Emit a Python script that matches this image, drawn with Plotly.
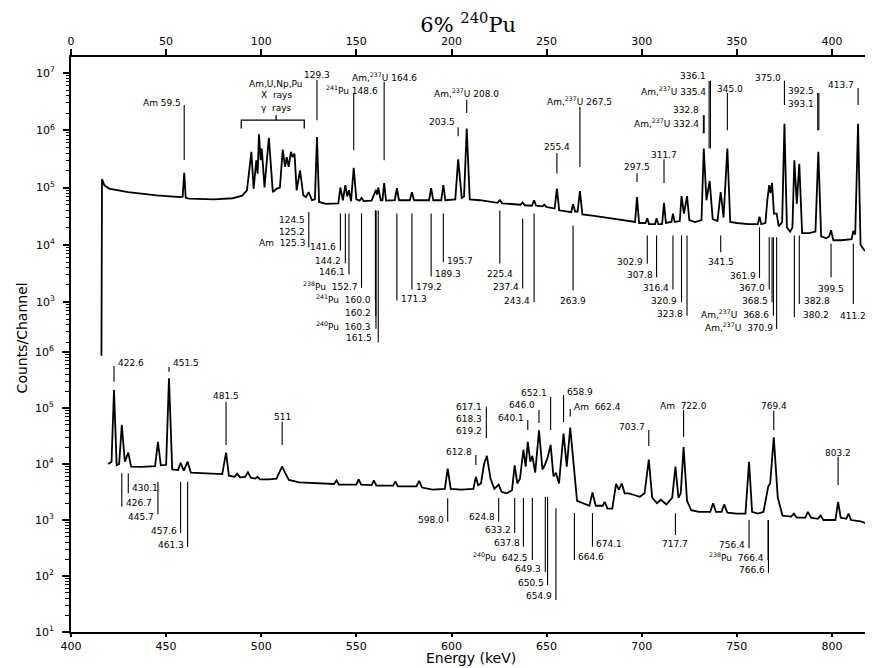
import plotly.graph_objects as go

# ---------------- data ----------------
# upper spectrum (top energy axis 0-420 keV)
up_energy = [16.0, 16.3, 17.5, 20, 30, 45, 57.5, 58.7, 59.5, 60.3, 62, 75, 85, 90, 92.5,
             94.8, 96.0, 97.4, 98.1, 98.8, 99.7, 100.3, 101.7, 104.0, 106.1, 108.0, 109.8,
             111.3, 112.5, 113.4, 114.4, 115.6, 116.5, 117.5, 118.6, 120.4, 122.1, 123.5,
             124.9, 126.7, 128.2, 129.3, 130.4, 134, 140.5, 141.6, 142.9, 144.2, 145.2,
             146.1, 147.2, 148.6, 150.0, 151.7, 152.7, 153.8, 158, 160.3, 160.9, 161.5,
             162.8, 163.7, 164.6, 165.6, 170.2, 171.3, 172.4, 178.1, 179.2, 180.3, 188.2,
             189.3, 190.4, 194.6, 195.7, 196.8, 202.0, 203.5, 205.4, 206.6, 208.0, 209.6,
             215, 224.2, 225.4, 226.6, 236.3, 237.4, 238.5, 242.3, 243.4, 244.5, 247.8,
             248.8, 249.8, 254.2, 255.4, 256.6, 262.9, 263.9, 265.0, 266.3, 267.5, 268.8,
             275, 284, 295, 296.5, 297.5, 298.6, 302.0, 302.9, 303.8, 307.0, 307.8, 308.7,
             310.7, 311.7, 312.7, 315.6, 316.4, 317.3, 320.0, 320.9, 322.2, 323.8, 325.0,
             328, 331.4, 332.6, 334.0, 335.7, 337.3, 339.8, 341.5, 343.0, 345.0, 346.5,
             350, 356, 361.0, 361.9, 362.8, 365, 366.0, 367.0, 367.7, 368.5, 369.5, 370.9,
             372, 373.8, 375.0, 376.3, 378, 379.2, 380.2, 381.5, 382.8, 384.3, 388, 391.3,
             392.8, 394.3, 397, 398.5, 399.5, 400.7, 405, 410.3, 411.2, 412.2, 413.7,
             415.0, 417, 420.5]
up_counts = [115, 1.4e5, 1.1e5, 9.6e4, 8.3e4, 7.3e4, 6.8e4, 6.9e4, 1.8e5, 6.6e4, 6.4e4,
             6.2e4, 6.5e4, 7.2e4, 8.9e4,
             4.2e5, 9.5e4, 3.0e5, 1.75e5, 8.5e5, 3.0e5, 4.8e5, 1.0e5, 7.4e5, 8.3e4, 9.5e4,
             1.0e5, 4.6e5, 2.3e5, 3.4e5, 2.3e5, 4.2e5, 3.4e5, 3.9e5, 8.9e4, 2.0e5, 7.3e4,
             6.8e4, 8.3e4, 6.0e4, 6.2e4, 7.6e5, 5.6e4, 5.2e4, 5.3e4, 1.0e5, 6.0e4, 1.1e5,
             7.0e4, 9.0e4, 5.8e4, 2.2e5, 6.2e4, 5.9e4, 6.6e4, 5.8e4, 5.9e4, 9.1e4, 7.5e4,
             1.0e5, 6.0e4, 6.0e4, 1.2e5, 5.9e4, 6.0e4, 9.7e4, 6.0e4, 6.0e4, 8.3e4, 6.0e4,
             6.0e4, 9.7e4, 6.0e4, 6.0e4, 1.1e5, 6.0e4, 6.2e4, 3.1e5, 6.6e4, 7.0e4, 1.07e6,
             6.2e4, 6.0e4, 5.4e4, 6.0e4, 5.3e4, 5.0e4, 5.5e4, 4.9e4, 4.8e4, 6.0e4, 4.8e4,
             4.7e4, 5.0e4, 4.6e4, 4.3e4, 9.6e4, 4.0e4, 3.7e4, 5.1e4, 3.8e4, 3.8e4, 8.7e4,
             3.4e4, 3.2e4, 2.9e4, 2.5e4, 2.5e4, 6.8e4, 2.4e4, 2.4e4, 2.9e4, 2.3e4, 2.3e4,
             2.9e4, 2.3e4, 2.3e4, 5.4e4, 2.4e4, 2.5e4, 3.5e4, 2.5e4, 2.6e4, 7.1e4, 3.5e4,
             7.1e4, 2.7e4, 2.5e4, 2.7e4, 4.8e5, 6.0e4, 1.3e5, 2.8e4, 2.6e4, 8.3e4, 3.0e4,
             4.8e5, 2.5e4, 2.4e4, 2.3e4, 2.3e4, 3.1e4, 2.3e4, 2.4e4, 6.0e4, 1.1e5, 8.0e4,
             1.2e5, 3.5e4, 3.5e4, 2.1e4, 2.5e4, 1.3e6, 2.0e4, 1.7e4, 2.0e4, 3.0e5, 5.2e4,
             2.6e5, 1.6e4, 1.6e4, 1.7e4, 4.2e5, 1.4e4, 1.3e4, 1.4e4, 1.8e4, 1.2e4, 1.2e4,
             1.25e4, 1.75e4, 1.5e4, 1.3e6, 1.0e4, 8.0e3, 7.4e3]

# lower spectrum (bottom energy axis 400-820 keV)
lo_energy = [419.5, 421.3, 422.6, 424.0, 425.3, 426.7, 428.3, 430.1, 431.6, 437, 444.2,
             445.7, 447.2, 450.0, 451.5, 453.2, 456.3, 457.6, 459.3, 461.3, 463.0, 470,
             479.5, 481.5, 483.0, 486, 487.3, 488.8, 491.5, 493.0, 494.5, 497.0, 498.0,
             499.3, 504, 508.0, 509.5, 511.0, 512.5, 514.5, 520, 530, 538.3, 539.5, 540.8,
             550.0, 551.2, 552.5, 558.0, 559.2, 560.5, 569.3, 570.5, 571.8, 581.5, 583.0,
             584.5, 590, 596.5, 598.0, 599.6, 605, 611.5, 612.8, 614.0, 615.5, 617.1,
             618.6, 620.5, 622.5, 624.8, 626.3, 629, 631.8, 633.2, 634.6, 636.0, 637.8,
             639.0, 640.1, 641.4, 642.5, 644.0, 646.0, 647.8, 649.3, 650.5, 652.1, 653.6,
             654.9, 656.5, 658.9, 660.6, 662.4, 664.0, 666.0, 672.5, 674.1, 675.8, 679.5,
             680.5, 682, 684.5, 686.5, 688, 689.5, 691, 693, 696, 699, 701.5, 703.7, 705.5,
             708, 710, 713, 716, 717.7, 719.3, 720.5, 722.0, 723.8, 726, 730, 736, 737.5,
             739, 742, 743.3, 745, 750, 754.5, 756.4, 758, 761, 764, 766.5, 767.5, 769.4,
             771.5, 774, 778.5, 780, 781.5, 786, 787.3, 789, 792.5, 794, 795.5, 801.8,
             803.2, 804.6, 807.5, 808.7, 810, 815, 820.5]
lo_counts = [1.0e4, 1.1e4, 2.1e5, 9.5e3, 1.0e4, 5.0e4, 1.1e4, 1.6e4, 9.0e3, 8.9e3, 9.2e3,
             2.5e4, 9.5e3, 9.7e3, 3.4e5, 8.0e3, 7.8e3, 1.05e4, 7.6e3, 1.1e4, 7.0e3, 6.8e3,
             6.6e3, 1.6e4, 6.2e3, 5.9e3, 6.7e3, 5.8e3, 5.9e3, 7.1e3, 5.7e3, 5.5e3, 5.9e3,
             5.3e3, 5.3e3, 5.5e3, 7.2e3, 9.1e3, 7.0e3, 5.2e3, 4.7e3, 4.5e3, 4.4e3, 5.1e3,
             4.3e3, 4.3e3, 5.3e3, 4.3e3, 4.2e3, 5.1e3, 4.1e3, 4.1e3, 4.9e3, 4.0e3, 4.0e3,
             5.0e3, 3.8e3, 3.5e3, 3.6e3, 8.3e3, 3.6e3, 3.5e3, 3.6e3, 5.9e3, 4.2e3, 4.5e3,
             1.0e4, 1.4e4, 5.5e3, 3.6e3, 4.3e3, 3.2e3, 3.0e3, 3.4e3, 9.5e3, 4.5e3, 5.5e3,
             1.8e4, 9.0e3, 2.5e4, 1.1e4, 1.4e4, 7.0e3, 4.0e4, 8.0e3, 1.0e4, 1.3e4, 2.2e4,
             6.0e3, 7.0e3, 4.5e3, 3.5e4, 9.0e3, 4.5e4, 1.0e4, 2.2e3, 1.8e3, 3.1e3, 1.8e3,
             1.8e3, 2.1e3, 1.6e3, 1.6e3, 4.4e3, 3.5e3, 4.5e3, 3.0e3, 3.0e3, 2.8e3, 2.6e3,
             3.0e3, 1.2e4, 2.5e3, 2.0e3, 2.3e3, 1.9e3, 2.5e3, 9.0e3, 2.5e3, 3.0e3, 2.0e4,
             2.2e3, 1.5e3, 1.4e3, 1.4e3, 2.0e3, 1.4e3, 1.4e3, 1.9e3, 1.35e3, 1.3e3, 1.3e3,
             1.1e4, 1.4e3, 1.3e3, 1.4e3, 4.0e3, 4.5e3, 3.0e4, 2.5e3, 1.2e3, 1.15e3, 1.3e3,
             1.1e3, 1.1e3, 1.4e3, 1.1e3, 1.05e3, 1.2e3, 1.0e3, 1.0e3, 2.1e3, 1.1e3, 1.05e3,
             1.3e3, 1.0e3, 950, 810]

# label marker lines: (energy, top, bottom) in log10(counts)
up_lines = [(59.5, 6.44, 5.48), (129.3, 6.877, 6.177), (148.6, 6.645, 5.651),
            (164.6, 6.848, 5.476), (208.0, 6.527, 6.30), (203.5, 6.054, 5.897),
            (267.5, 6.41, 5.359), (255.4, 5.604, 5.243), (297.5, 5.249, 5.096),
            (311.7, 5.494, 5.079), (332.4, 6.264, 5.949), (332.8, 6.264, 5.949),
            (335.4, 6.865, 5.681), (336.1, 6.865, 5.681), (345.0, 6.65, 6.002),
            (375.0, 6.865, 6.44), (392.5, 6.65, 6.002), (393.1, 6.65, 6.002),
            (413.7, 6.737, 6.44),
            (125.0, 4.571, 3.958), (141.6, 4.548, 3.90), (144.2, 4.548, 3.678),
            (146.1, 4.548, 3.48), (152.7, 4.548, 3.247), (160.0, 4.60, 3.025),
            (160.2, 4.60, 2.762), (160.3, 4.60, 2.534), (161.5, 4.60, 2.294),
            (171.3, 4.548, 3.025), (179.2, 4.548, 3.217), (189.3, 4.548, 3.445),
            (195.7, 4.548, 3.695), (225.4, 4.60, 3.673), (237.4, 4.461, 3.235),
            (243.4, 4.548, 2.995), (263.9, 4.338, 3.20), (302.9, 4.163, 3.667),
            (307.8, 4.163, 3.433), (316.4, 4.163, 3.217), (320.9, 4.163, 2.995),
            (323.8, 4.163, 2.762), (341.5, 4.163, 3.87), (361.9, 4.308, 3.422),
            (367.0, 4.133, 3.217), (368.5, 4.133, 2.995), (369.2, 4.133, 2.762),
            (370.9, 4.133, 2.529), (380.2, 4.163, 2.732), (382.8, 4.163, 2.967),
            (399.5, 4.018, 3.433), (411.2, 4.018, 2.967)]
# bracket over the x-ray region: polyline in (energy, log10 counts)
up_bracket_e = [89.5, 89.5, 122.6, 122.6, None, 107.8, 107.8]
up_bracket_l = [6.032, 6.177, 6.177, 6.032, None, 6.177, 6.264]

lo_lines = [(422.6, 5.75, 5.47), (451.5, 5.738, 5.648), (481.5, 5.113, 4.339),
            (511.0, 4.755, 4.339), (612.8, 4.161, 3.982), (618.3, 5.023, 4.464),
            (640.1, 4.786, 4.607), (646.0, 4.964, 4.732), (652.1, 5.202, 4.607),
            (658.9, 5.232, 4.75), (662.4, 4.982, 4.85), (703.7, 4.607, 4.321),
            (722.0, 4.964, 4.488), (769.4, 4.952, 4.607), (803.2, 4.13, 3.625),
            (426.7, 3.834, 3.238), (430.1, 3.834, 3.477), (445.7, 3.684, 3.1),
            (457.6, 3.684, 2.768), (461.3, 3.684, 2.518), (598.0, 3.388, 2.97),
            (624.8, 3.393, 2.97), (633.2, 3.393, 2.768), (637.8, 3.393, 2.523),
            (642.5, 3.393, 2.286), (649.3, 3.416, 2.07), (650.5, 3.416, 1.84),
            (654.9, 3.209, 1.571), (664.6, 3.125, 2.286), (674.1, 3.125, 2.523),
            (717.7, 3.12, 2.732), (756.4, 3.0, 2.495), (766.4, 3.0, 2.286),
            (766.6, 3.0, 2.054)]

# label texts: (text, energy, log10 counts, anchor)
up_texts = [("Am 59.5", 58.7, 6.47, "right"), ("Am,U,Np,Pu", 107.8, 6.807, "center"),
            ("X  rays", 107.8, 6.615, "center"), ("γ  rays", 107.8, 6.392, "center"),
            ("129.3", 129.3, 6.965, "center"), ("<sup>241</sup>Pu 148.6", 147.6, 6.702, "center"),
            ("Am,<sup>237</sup>U 164.6", 164.6, 6.93, "center"),
            ("Am,<sup>237</sup>U 208.0", 208.0, 6.65, "center"), ("203.5", 202.7, 6.142, "right"),
            ("Am,<sup>237</sup>U 267.5", 267.5, 6.515, "center"), ("255.4", 255.4, 5.704, "center"),
            ("297.5", 297.5, 5.359, "center"), ("311.7", 311.7, 5.564, "center"),
            ("332.8", 331.4, 6.352, "right"), ("Am,<sup>237</sup>U 332.4", 331.4, 6.124, "right"),
            ("336.1", 334.6, 6.947, "right"), ("Am,<sup>237</sup>U 335.4", 334.6, 6.69, "right"),
            ("345.0", 346.2, 6.72, "center"), ("375.0", 374.2, 6.912, "right"),
            ("392.5", 391.7, 6.69, "right"), ("393.1", 391.7, 6.457, "right"),
            ("413.7", 412.7, 6.79, "right"),
            ("124.5", 123.8, 4.426, "right"), ("125.2", 123.8, 4.221, "right"),
            ("Am  125.3", 123.8, 4.023, "right"), ("141.6", 140.4, 3.953, "right"),
            ("144.2", 143.0, 3.725, "right"), ("146.1", 145.1, 3.52, "right"),
            ("<sup>238</sup>Pu  152.7", 151.7, 3.287, "right"),
            ("<sup>241</sup>Pu  160.0", 158.8, 3.055, "right"), ("160.2", 158.8, 2.802, "right"),
            ("<sup>240</sup>Pu  160.3", 158.8, 2.587, "right"), ("161.5", 159.3, 2.371, "right"),
            ("171.3", 172.3, 3.06, "left"), ("179.2", 180.2, 3.257, "left"),
            ("189.3", 190.3, 3.497, "left"), ("195.7", 196.7, 3.725, "left"),
            ("225.4", 225.4, 3.497, "center"), ("237.4", 236.4, 3.257, "right"),
            ("243.4", 242.2, 3.025, "right"), ("263.9", 263.9, 3.025, "center"),
            ("302.9", 301.9, 3.695, "right"), ("307.8", 306.7, 3.48, "right"),
            ("316.4", 315.2, 3.247, "right"), ("320.9", 319.7, 3.025, "right"),
            ("323.8", 322.6, 2.797, "right"), ("341.5", 341.5, 3.695, "center"),
            ("361.9", 361.1, 3.462, "right"), ("367.0", 365.8, 3.247, "right"),
            ("368.5", 367.2, 3.025, "right"), ("Am,<sup>237</sup>U  368.6", 368.0, 2.792, "right"),
            ("Am,<sup>237</sup>U  370.9", 369.9, 2.557, "right"),
            ("380.2", 383.5, 2.78, "left"), ("382.8", 384.0, 3.025, "left"),
            ("399.5", 399.5, 3.235, "center"), ("411.2", 411.2, 2.762, "center")]

lo_texts = [("422.6", 423.6, 5.80, "left"), ("451.5", 452.5, 5.80, "left"),
            ("481.5", 481.5, 5.214, "center"), ("511", 511.0, 4.845, "center"),
            ("612.8", 611.8, 4.21, "right"), ("617.1", 617.3, 5.023, "right"),
            ("618.3", 617.3, 4.798, "right"), ("619.2", 617.3, 4.595, "right"),
            ("640.1", 639.1, 4.816, "right"), ("646.0", 645.0, 5.054, "right"),
            ("652.1", 651.1, 5.273, "right"), ("658.9", 659.9, 5.291, "left"),
            ("Am  662.4", 663.4, 5.018, "left"), ("703.7", 702.7, 4.666, "right"),
            ("Am  722.0", 722.0, 5.036, "center"), ("769.4", 769.4, 5.036, "center"),
            ("803.2", 803.2, 4.202, "center"),
            ("426.7", 427.7, 3.309, "left"), ("430.1", 431.1, 3.571, "left"),
            ("445.7", 444.7, 3.054, "right"), ("457.6", 456.6, 2.804, "right"),
            ("461.3", 460.3, 2.554, "right"), ("598.0", 597.0, 3.0, "right"),
            ("624.8", 623.8, 3.059, "right"), ("633.2", 632.2, 2.821, "right"),
            ("637.8", 636.8, 2.584, "right"), ("<sup>240</sup>Pu  642.5", 641.5, 2.345, "right"),
            ("649.3", 648.3, 2.12, "right"), ("650.5", 649.5, 1.88, "right"),
            ("654.9", 653.9, 1.643, "right"), ("664.6", 665.6, 2.334, "left"),
            ("674.1", 675.1, 2.566, "left"), ("717.7", 717.7, 2.566, "center"),
            ("756.4", 755.4, 2.554, "right"), ("<sup>238</sup>Pu  766.4", 765.4, 2.334, "right"),
            ("766.6", 765.6, 2.107, "right")]

FONT = "DejaVu Sans"
BLACK = "black"

fig = go.Figure()

fig.add_trace(go.Scatter(x=up_energy, y=up_counts, xaxis="x2", yaxis="y2", mode="lines",
                         line=dict(color=BLACK, width=1.8), hoverinfo="skip"))
fig.add_trace(go.Scatter(x=lo_energy, y=lo_counts, xaxis="x", yaxis="y", mode="lines",
                         line=dict(color=BLACK, width=1.8), hoverinfo="skip"))


def marker_polyline(lines):
    xs, ys = [], []
    for e, top, bot in lines:
        xs += [e, e, None]
        ys += [10 ** top, 10 ** bot, None]
    return xs, ys


ux, uy = marker_polyline(up_lines)
fig.add_trace(go.Scatter(x=ux, y=uy, xaxis="x2", yaxis="y2", mode="lines",
                         line=dict(color=BLACK, width=1.1), hoverinfo="skip"))
fig.add_trace(go.Scatter(x=up_bracket_e, y=[None if v is None else 10 ** v for v in up_bracket_l],
                         xaxis="x2", yaxis="y2", mode="lines",
                         line=dict(color=BLACK, width=1.3), hoverinfo="skip"))
lx, ly = marker_polyline(lo_lines)
fig.add_trace(go.Scatter(x=lx, y=ly, xaxis="x", yaxis="y", mode="lines",
                         line=dict(color=BLACK, width=1.1), hoverinfo="skip"))

LABEL_FONT = dict(family=FONT, size=9, color=BLACK)
for text, e, lv, anc in up_texts:
    fig.add_annotation(x=e, y=lv, xref="x2", yref="y2", text=text, showarrow=False,
                       xanchor=anc, yanchor="middle", font=LABEL_FONT)
for text, e, lv, anc in lo_texts:
    fig.add_annotation(x=e, y=lv, xref="x", yref="y", text=text, showarrow=False,
                       xanchor=anc, yanchor="middle", font=LABEL_FONT)

# axis titles
fig.add_annotation(x=0.5, y=-0.0626, xref="paper", yref="paper", text="Energy (keV)",
                   showarrow=False, xanchor="center", yanchor="bottom",
                   font=dict(family=FONT, size=14, color=BLACK))
fig.add_annotation(x=-0.061, y=0.511, xref="paper", yref="paper", text="Counts/Channel",
                   showarrow=False, xanchor="center", yanchor="middle", textangle=-90,
                   font=dict(family=FONT, size=14, color=BLACK))

lo_major = [10 ** k for k in range(1, 7)]
up_major = [10 ** k for k in range(3, 8)]
lo_minor = [d * 10 ** k for k in range(1, 6) for d in range(2, 10)]
up_minor = [d * 10 ** k for k in range(2, 8) for d in range(2, 10) if 200 <= d * 10 ** k <= 1.9e7]

tickfont = dict(family=FONT, size=11, color=BLACK)
common_y = dict(type="log", showgrid=False, zeroline=False, ticks="outside", ticklen=7,
                tickwidth=1.5, tickcolor=BLACK, tickfont=tickfont, ticklabelstandoff=6,
                automargin=False)

# the page adds an 8 px body margin, so the figure is 8 px smaller than the window
fig.update_layout(
    width=865, height=660,
    margin=dict(l=63, r=2, t=49, b=36),
    paper_bgcolor="white", plot_bgcolor="white",
    showlegend=False,
    title=dict(text="6% <sup>240</sup>Pu", x=0.532, xanchor="center", y=0.9755, yanchor="middle",
               font=dict(family="DejaVu Serif", size=21, color=BLACK)),
    xaxis=dict(range=[400, 820.5], tickvals=list(range(400, 801, 50)), ticks="outside",
               ticklen=3, tickwidth=1.5, tickcolor=BLACK, showline=True, linecolor=BLACK,
               linewidth=2, showgrid=False, zeroline=False, tickfont=tickfont, anchor="y",
               automargin=False, ticklabelstandoff=0),
    xaxis2=dict(range=[0, 420.5], overlaying="x", side="top", anchor="y",
                tickvals=list(range(0, 401, 50)), ticks="outside", ticklen=6, tickwidth=1.5,
                tickcolor=BLACK, showline=True, linecolor=BLACK, linewidth=2,
                showgrid=False, zeroline=False, tickfont=tickfont, automargin=False,
                ticklabelstandoff=0),
    yaxis=dict(range=[1, 11.27], tickvals=lo_major,
               ticktext=[f"10<sup>{k}</sup>" for k in range(1, 7)],
               minor=dict(tickvals=lo_minor, ticklen=4, ticks="outside", tickcolor=BLACK,
                          tickwidth=1),
               showline=True, linecolor=BLACK, linewidth=2, mirror=True, anchor="x",
               **common_y),
    yaxis2=dict(range=[-2.764, 7.28], overlaying="y", side="left", anchor="x",
                tickvals=up_major, ticktext=[f"10<sup>{k}</sup>" for k in range(3, 8)],
                minor=dict(tickvals=up_minor, ticklen=4, ticks="outside", tickcolor=BLACK,
                           tickwidth=1),
                showline=False, **common_y),
)

fig.write_html("out.html")
